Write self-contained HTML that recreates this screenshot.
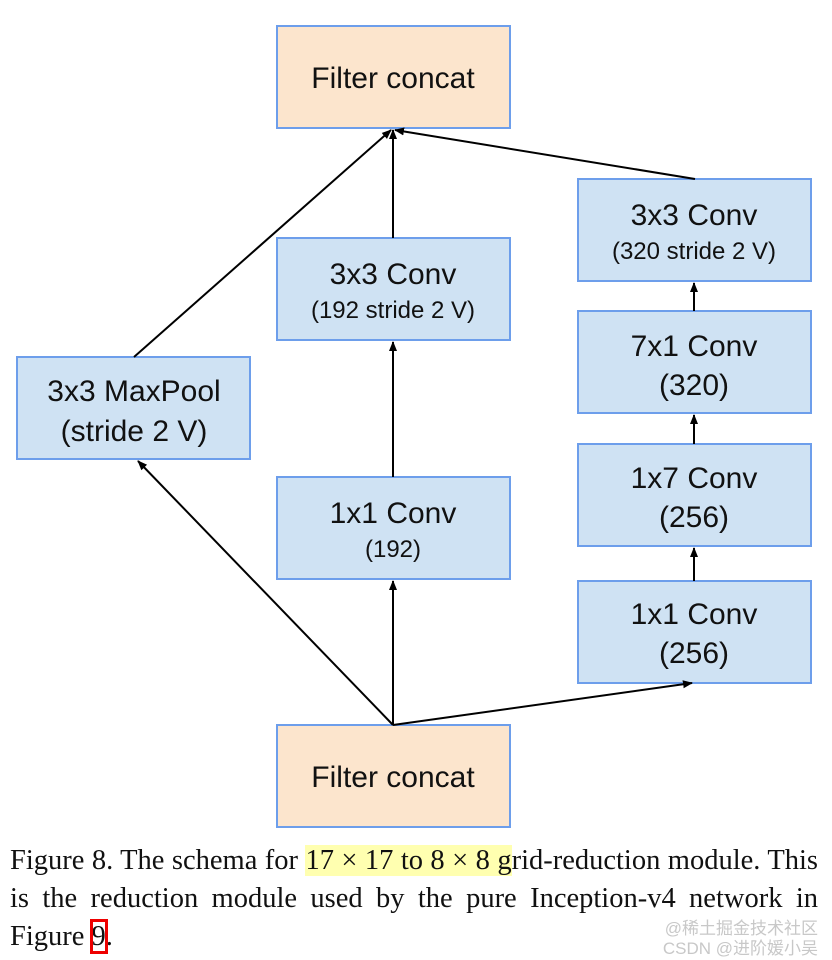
<!DOCTYPE html>
<html><head><meta charset="utf-8"><style>
html,body{margin:0;padding:0;background:#fff;width:832px;height:960px;overflow:hidden}
svg{position:absolute;left:0;top:0}
.cap{position:absolute;left:10px;top:842px;width:808px;font-family:"Liberation Serif",serif;font-size:28.5px;line-height:38px;text-align:justify;color:#111}
.hl{background:#ffffb0}
.box9{outline:3px solid #e00;outline-offset:-1px}
.wm{position:absolute;right:14px;font-family:"Liberation Sans","Noto Sans CJK SC",sans-serif;color:#c8c8c8;font-size:17px}
</style></head><body>
<svg width="832" height="960" font-family="Liberation Sans, sans-serif" text-anchor="middle">
<defs><marker id="a" markerWidth="10" markerHeight="10" refX="9" refY="5" orient="auto" markerUnits="userSpaceOnUse"><path d="M0,1 L10,5 L0,9 z" fill="#000"/></marker></defs>
<g stroke="#6d9eeb" stroke-width="2">
<rect x="277" y="26" width="233" height="102" fill="#fce5cd"/>
<rect x="277" y="725" width="233" height="102" fill="#fce5cd"/>
<rect x="17" y="357" width="233" height="102" fill="#cfe2f3"/>
<rect x="277" y="238" width="233" height="102" fill="#cfe2f3"/>
<rect x="277" y="477" width="233" height="102" fill="#cfe2f3"/>
<rect x="578" y="179" width="233" height="102" fill="#cfe2f3"/>
<rect x="578" y="311" width="233" height="102" fill="#cfe2f3"/>
<rect x="578" y="444" width="233" height="102" fill="#cfe2f3"/>
<rect x="578" y="581" width="233" height="102" fill="#cfe2f3"/>
</g>
<g stroke="#000" stroke-width="2" fill="none" marker-end="url(#a)">
<line x1="393" y1="725" x2="138" y2="461"/>
<line x1="393" y1="725" x2="393" y2="581"/>
<line x1="393" y1="725" x2="692" y2="683"/>
<line x1="393" y1="477" x2="393" y2="342"/>
<line x1="393" y1="238" x2="393" y2="130"/>
<line x1="134" y1="357" x2="391" y2="130"/>
<line x1="695" y1="179" x2="395" y2="130"/>
<line x1="694" y1="311" x2="694" y2="283"/>
<line x1="694" y1="444" x2="694" y2="415"/>
<line x1="694" y1="581" x2="694" y2="548"/>
</g>
<g font-size="30" fill="#111">
<text x="393" y="88">Filter concat</text>
<text x="393" y="787">Filter concat</text>
<text x="134" y="401">3x3 MaxPool</text>
<text x="134" y="441">(stride 2 V)</text>
<text x="393" y="284">3x3 Conv</text>
<text x="393" y="523">1x1 Conv</text>
<text x="694" y="225">3x3 Conv</text>
<text x="694" y="356">7x1 Conv</text>
<text x="694" y="395">(320)</text>
<text x="694" y="488">1x7 Conv</text>
<text x="694" y="527">(256)</text>
<text x="694" y="624">1x1 Conv</text>
<text x="694" y="663">(256)</text>
</g>
<g font-size="24" fill="#111">
<text x="393" y="318">(192 stride 2 V)</text>
<text x="393" y="557">(192)</text>
<text x="694" y="259">(320 stride 2 V)</text>
</g>
</svg>
<div class="cap">Figure 8. The schema for <span class="hl">17 × 17 to 8 × 8 g</span>rid-reduction module. This is the reduction module used by the pure Inception-v4 network in Figure <span class="box9">9</span>.</div>
<div class="wm" style="top:914px">@稀土掘金技术社区</div>
<div class="wm" style="top:934px">CSDN @进阶媛小吴</div>
</body></html>
